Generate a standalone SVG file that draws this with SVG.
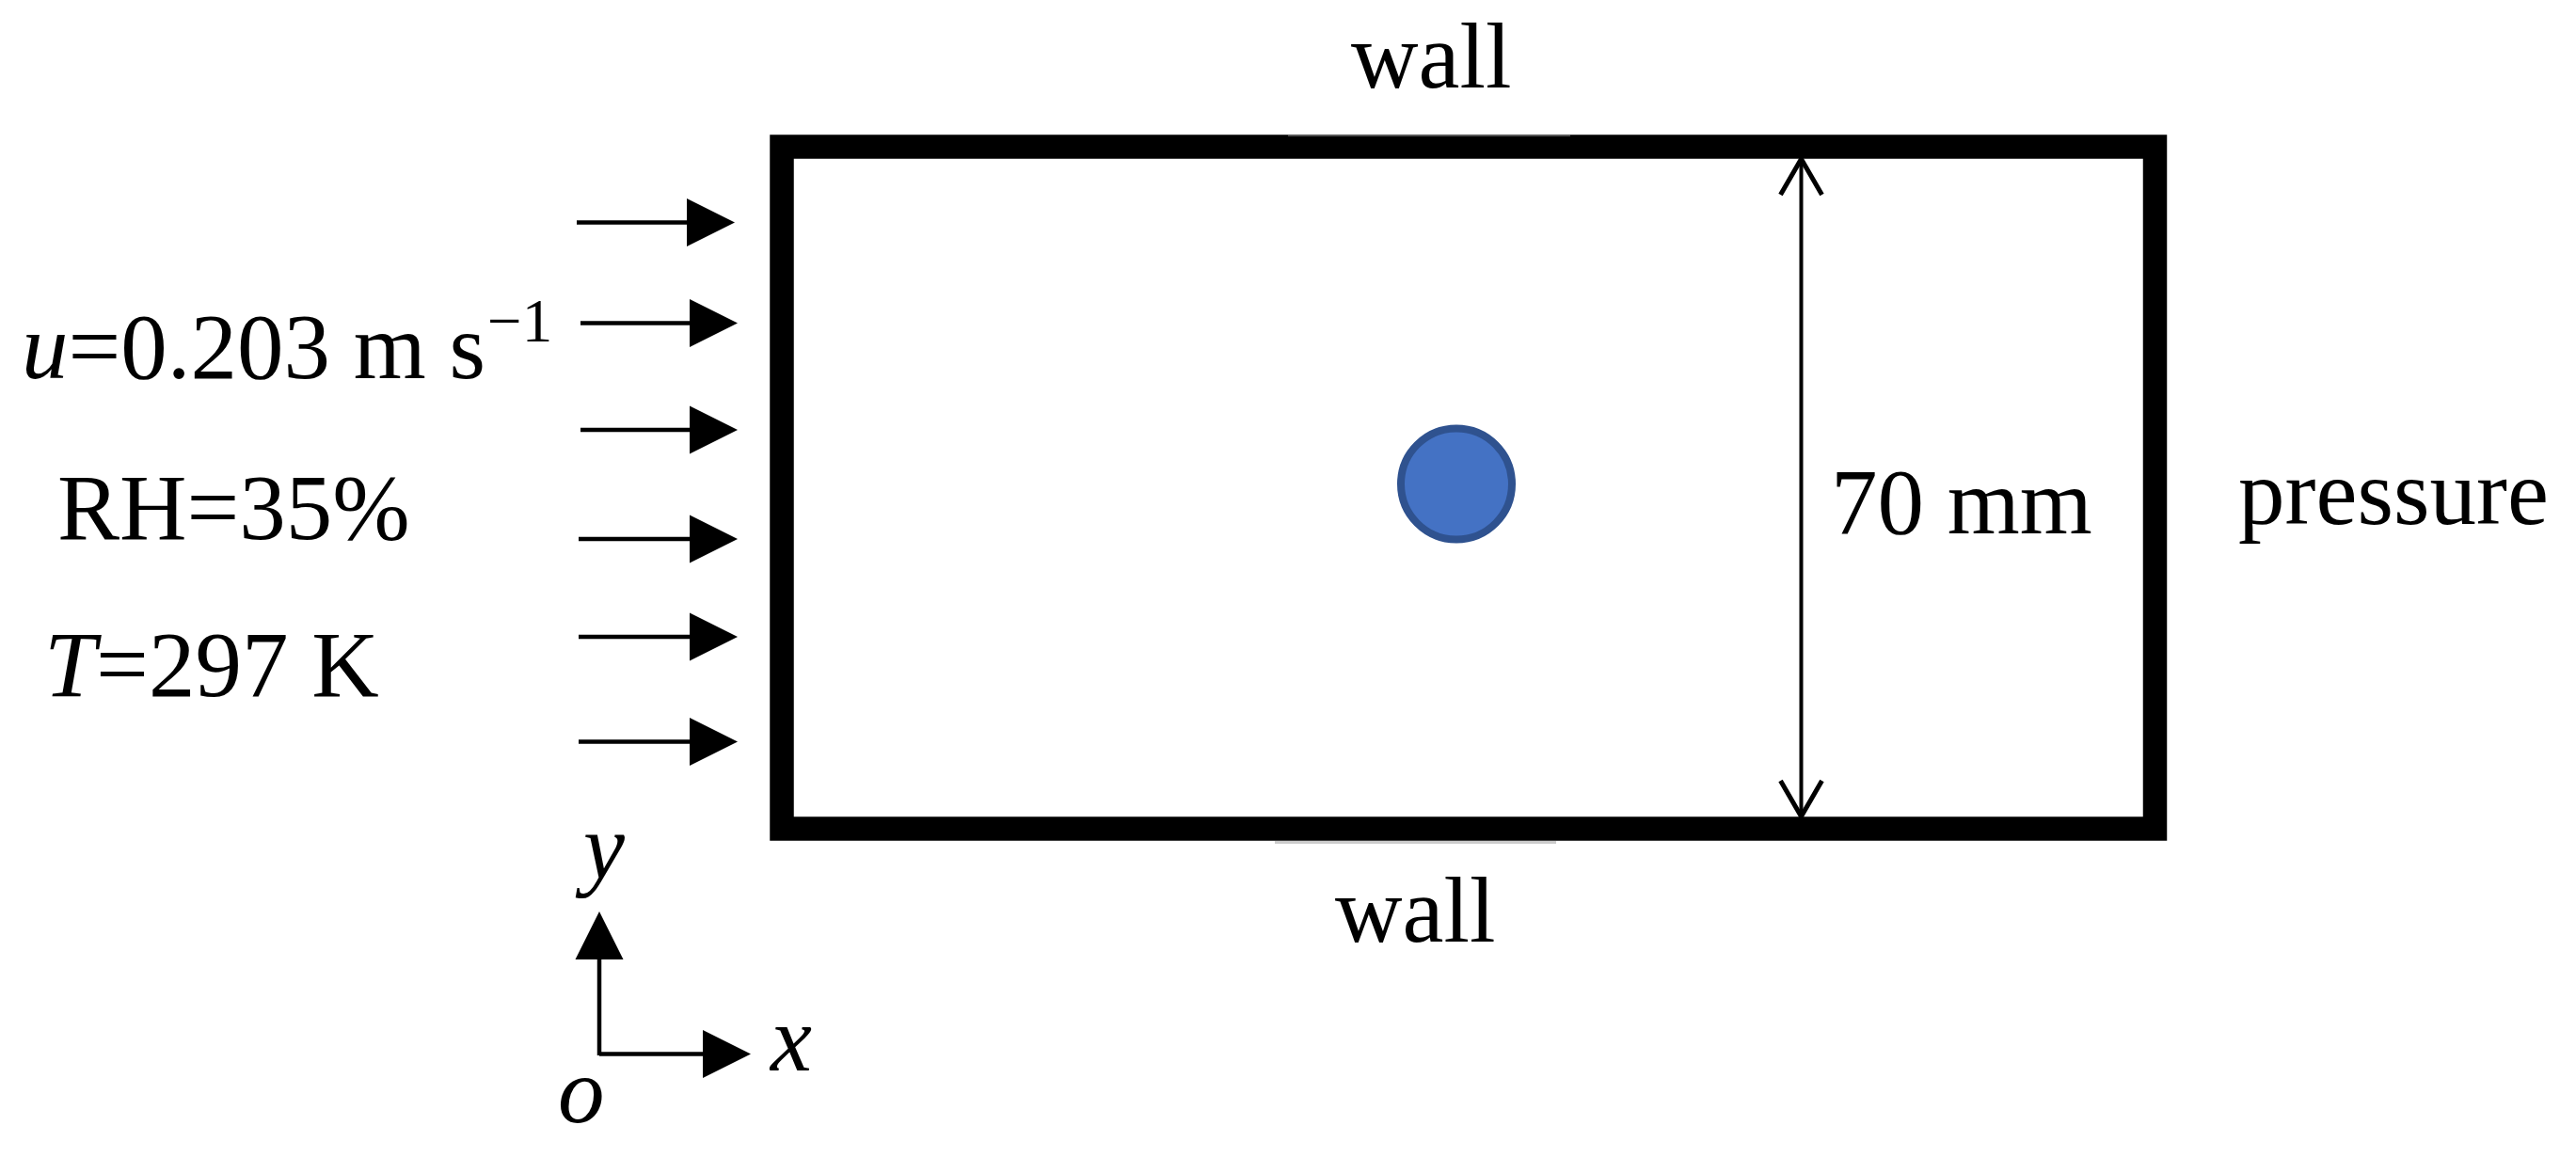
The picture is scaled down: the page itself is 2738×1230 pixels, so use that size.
<svg xmlns="http://www.w3.org/2000/svg" width="2738" height="1230" viewBox="0 0 2738 1230">
<style>
text{font-family:"Liberation Serif","Times New Roman",serif;font-size:99px;fill:#000}
.it{font-style:italic}
.flow{stroke:#000;stroke-width:4.5;fill:none;marker-end:url(#solid)}
.dim{stroke:#000;stroke-width:4;fill:none;marker-start:url(#open);marker-end:url(#open)}
.wall{fill:none;stroke:#000;stroke-width:25.5}
</style>
<defs>
<marker id="solid" markerUnits="userSpaceOnUse" markerWidth="54" markerHeight="54" refX="0" refY="26" orient="auto" overflow="visible"><path d="M0,0.5 L51,26 L0,51.5 Z" fill="#000"/></marker>
<marker id="open" markerUnits="userSpaceOnUse" markerWidth="40" markerHeight="50" refX="38" refY="22" orient="auto-start-reverse" overflow="visible"><path d="M0,0 L38,22 L0,44" fill="none" stroke="#000" stroke-width="5"/></marker>
</defs>
<rect width="2738" height="1230" fill="#fff"/>
<g id="channel">
<rect class="wall" x="831" y="156" width="1459.5" height="725"/>
<rect x="1369" y="143" width="300" height="2" fill="#555"/>
<rect x="1355" y="894" width="299" height="3" fill="#ccc"/>
</g>
<g id="cylinder"><circle cx="1548" cy="514.5" r="59" fill="#4472C4" stroke="#2F528F" stroke-width="8"/></g>
<g id="connectors">
<line class="flow" x1="613" y1="236.5" x2="730" y2="236.5"/>
<line class="flow" x1="617" y1="343.5" x2="733" y2="343.5"/>
<line class="flow" x1="617" y1="457" x2="733" y2="457"/>
<line class="flow" x1="615" y1="573" x2="733" y2="573"/>
<line class="flow" x1="615" y1="677" x2="733" y2="677"/>
<line class="flow" x1="615" y1="788.5" x2="733" y2="788.5"/>
<line class="dim" x1="1914.5" y1="169" x2="1914.5" y2="868"/>
<path d="M637,1120.5 L747,1120.5" class="flow"/>
<path d="M637,1122 L637,1020" class="flow"/>
</g>
<g id="label-wall-top"><text x="1436" y="93">wall</text></g>
<g id="label-wall-bottom"><text x="1419" y="1001">wall</text></g>
<g id="label-height"><text x="1946" y="567">70 mm</text></g>
<g id="label-pressure"><text x="2379" y="557">pressure</text></g>
<g id="label-velocity"><text x="23" y="402"><tspan class="it">u</tspan>=0.203 m s</text><text x="518" y="363" style="font-size:65px">−1</text></g>
<g id="label-rh"><text x="61" y="573">RH=35%</text></g>
<g id="label-temperature"><text x="47" y="740"><tspan class="it">T</tspan>=297 K</text></g>
<g id="axis-labels">
<text class="it" x="620" y="934">y</text>
<text class="it" x="819" y="1138">x</text>
<text class="it" x="593" y="1193">o</text>
</g>
</svg>
